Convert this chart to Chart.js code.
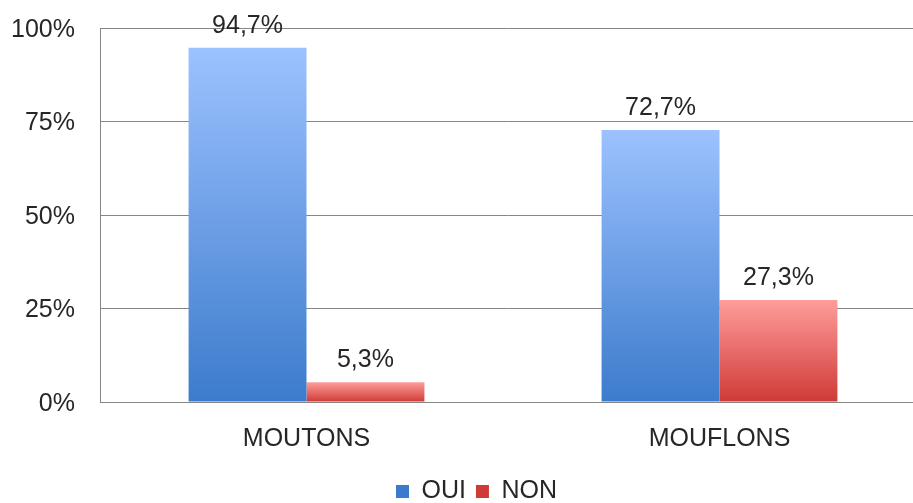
<!DOCTYPE html>
<html>
<head>
<meta charset="utf-8">
<script src="https://cdn.jsdelivr.net/npm/chart.js@4/dist/chart.umd.min.js"></script>
<style>
  html, body { margin: 0; padding: 0; background: #fff; }
  #wrap { width: 913px; height: 503px; }
</style>
</head>
<body>
<div id="wrap"><canvas id="canvas"></canvas></div>
<script>
  const categories = ["MOUTONS", "MOUFLONS"];
  const seriesNames = ["OUI", "NON"];
  const ouiValues = [94.7, 72.7];
  const nonValues = [5.3, 27.3];
  const yTicks = [0, 25, 50, 75, 100];

  const FONT = "'Liberation Sans', Arial, sans-serif";
  const TEXT = "#262626";
  // plot box of the original; it runs a little past the right edge
  const PLOT = { top: 28, bottom: 402, right: 926 };
  const LEGEND_TOP = 469;
  const LEGEND_SHIFT = 20;

  // gradient per bar: light at the top, darker at the base
  function barGradient(light, dark, mid) {
    return function (ctx) {
      const chart = ctx.chart;
      if (ctx.type !== "data" || !chart.chartArea) {
        return mid;
      }
      const y = chart.scales.y;
      const top = y.getPixelForValue(ctx.raw);
      const bottom = y.getPixelForValue(0);
      if (!isFinite(top) || bottom - top < 1) {
        return mid;
      }
      const g = chart.ctx.createLinearGradient(0, top, 0, bottom);
      g.addColorStop(0, light);
      g.addColorStop(1, dark);
      return g;
    };
  }

  function fmt(v) {
    return v.toFixed(1).replace(".", ",") + "%";
  }

  const fixLayout = {
    id: "fixLayout",
    afterLayout(chart) {
      const area = chart.chartArea;
      const x = chart.scales.x;
      const y = chart.scales.y;

      area.top = PLOT.top;
      area.bottom = PLOT.bottom;
      area.right = PLOT.right;
      area.width = area.right - area.left;
      area.height = area.bottom - area.top;

      x.right = PLOT.right;
      x.width = x.right - x.left;
      const xh = x.height;
      x.top = PLOT.bottom;
      x.bottom = x.top + xh;
      x.configure();

      y.top = PLOT.top;
      y.bottom = PLOT.bottom;
      y.height = y.bottom - y.top;
      y.configure();

      const lg = chart.legend;
      if (lg) {
        const h = lg.height;
        lg.top = LEGEND_TOP;
        lg.bottom = LEGEND_TOP + h;
        lg.left += LEGEND_SHIFT;
        lg.right += LEGEND_SHIFT;
      }
    },
  };

  const valueLabels = {
    id: "valueLabels",
    afterDatasetsDraw(chart) {
      const ctx = chart.ctx;
      ctx.save();
      ctx.font = "25px " + FONT;
      ctx.fillStyle = TEXT;
      ctx.textAlign = "center";
      ctx.textBaseline = "middle";
      chart.data.datasets.forEach((ds, i) => {
        chart.getDatasetMeta(i).data.forEach((bar, j) => {
          ctx.fillText(fmt(ds.data[j]), bar.x, bar.y - 22);
        });
      });
      ctx.restore();
    },
  };

  new Chart(document.getElementById("canvas"), {
    type: "bar",
    data: {
      labels: categories,
      datasets: [
        {
          label: seriesNames[0],
          data: ouiValues,
          backgroundColor: barGradient("#9CC2FF", "#3C7BCC", "#6E9FE6"),
        },
        {
          label: seriesNames[1],
          data: nonValues,
          backgroundColor: barGradient("#FF9D9B", "#CF3A36", "#E46A68"),
        },
      ],
    },
    options: {
      responsive: true,
      maintainAspectRatio: false,
      animation: false,
      layout: {
        padding: 0,
      },
      datasets: {
        bar: {
          categoryPercentage: 0.571,
          barPercentage: 1,
        },
      },
      scales: {
        x: {
          grid: { display: false, drawTicks: false },
          border: { color: "#868686", width: 1 },
          ticks: {
            color: TEXT,
            font: { family: FONT, size: 25 },
            padding: 22,
          },
        },
        y: {
          min: 0,
          max: 100,
          afterFit(scale) {
            scale.width = 100;
          },
          afterBuildTicks(scale) {
            scale.ticks = yTicks.map((v) => ({ value: v }));
          },
          grid: {
            color: "#868686",
            lineWidth: 1,
            drawTicks: false,
          },
          border: { color: "#868686", width: 1 },
          ticks: {
            color: TEXT,
            font: { family: FONT, size: 25 },
            padding: 25,
            labelOffset: 2,
            callback: (v) => v + "%",
          },
        },
      },
      plugins: {
        legend: {
          position: "bottom",
          labels: {
            color: TEXT,
            font: { family: FONT, size: 25 },
            boxWidth: 13,
            boxHeight: 13,
            padding: 10,
          },
        },
        tooltip: { enabled: false },
      },
    },
    plugins: [fixLayout, valueLabels],
  });
</script>
</body>
</html>
